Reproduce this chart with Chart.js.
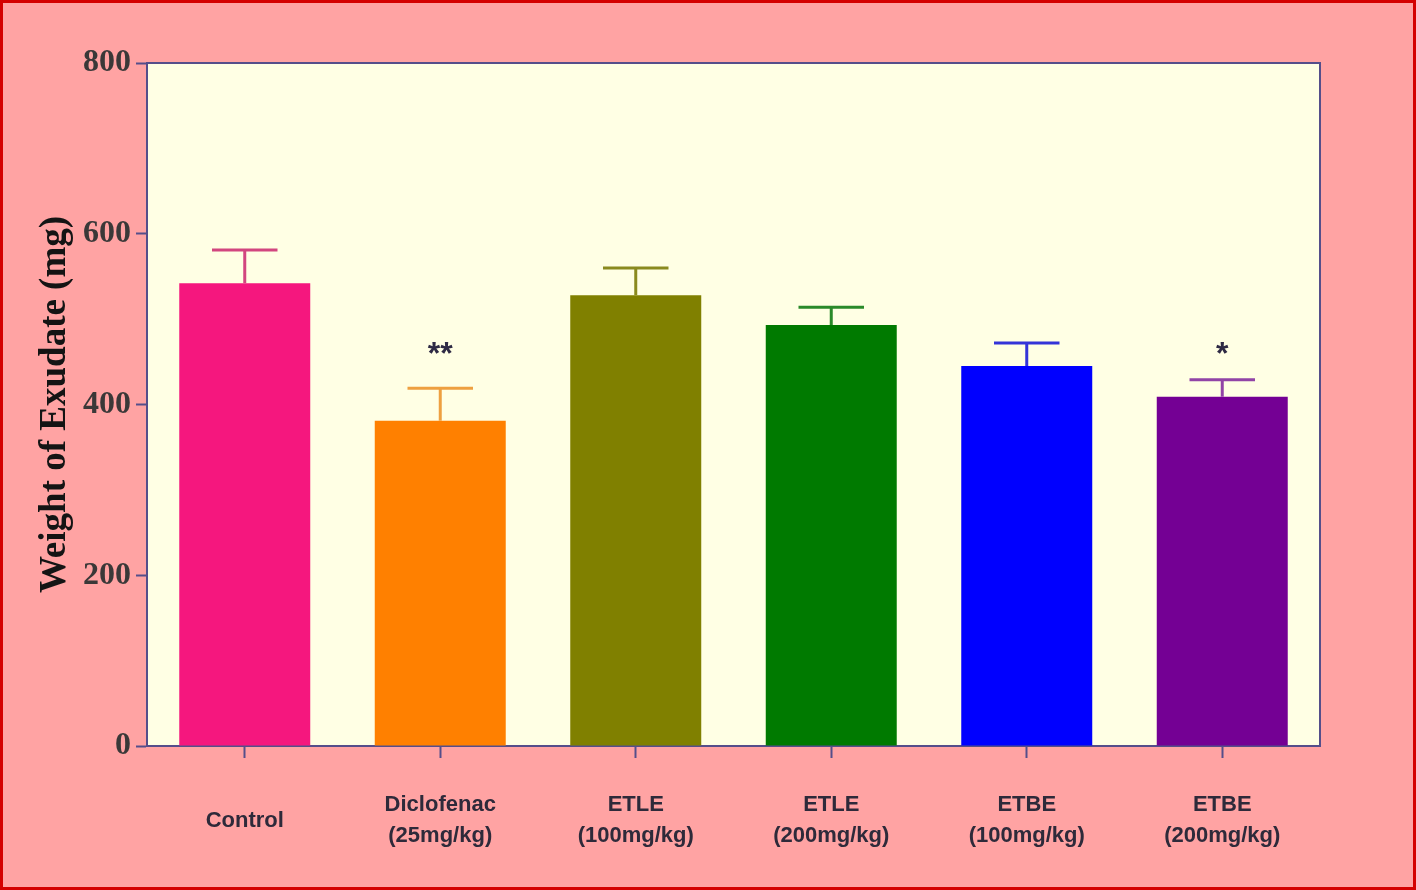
<!DOCTYPE html>
<html>
<head>
<meta charset="utf-8">
<script src="https://cdn.jsdelivr.net/npm/chart.js@4.4.1/dist/chart.umd.min.js"></script>
<style>
  html, body { margin: 0; padding: 0; background: #ffa3a3; }
  #wrap { width: 1416px; height: 890px; }
</style>
</head>
<body>
<div id="wrap"><canvas id="exudateChart" width="1416" height="890"></canvas></div>
<script>
// data
const groups = [
  "Control",
  ["Diclofenac", "(25mg/kg)"],
  ["ETLE", "(100mg/kg)"],
  ["ETLE", "(200mg/kg)"],
  ["ETBE", "(100mg/kg)"],
  ["ETBE", "(200mg/kg)"]
]
const meanWeight = [542, 381, 528, 493, 445, 409]
const semWeight = [39, 38, 32, 21, 27, 20]
const significance = ["", "**", "", "", "", "*"]
const yTicks = [0, 200, 400, 600, 800]

const barColors = ["#f5177e", "#ff8000", "#808000", "#007a00", "#0000ff", "#740094"]
const capColors = ["#d2467f", "#eea040", "#8a8a1e", "#2a8a2a", "#3434d8", "#9144a6"]
const axisColor = "#554e8a"

// page background, red frame, yellow plot area + box
const backdrop = {
  id: "backdrop",
  beforeDraw(chart) {
    const { ctx, chartArea: a } = chart
    ctx.save()
    ctx.fillStyle = "#ffa3a3"
    ctx.fillRect(0, 0, chart.width, chart.height)
    ctx.strokeStyle = "#d40000"
    ctx.lineWidth = 3
    ctx.strokeRect(1.5, 1.5, chart.width - 3, chart.height - 3)
    ctx.fillStyle = "#ffffe4"
    ctx.fillRect(a.left, a.top, a.right - a.left, a.bottom - a.top)
    ctx.restore()
  },
  afterDraw(chart) {
    const { ctx, chartArea: a } = chart
    ctx.save()
    ctx.strokeStyle = axisColor
    ctx.lineWidth = 2
    ctx.beginPath()
    ctx.moveTo(a.left, a.top)
    ctx.lineTo(a.right, a.top)
    ctx.lineTo(a.right, a.bottom)
    ctx.stroke()
    ctx.restore()
  }
}

// upper error bars and significance stars
const errorBars = {
  id: "errorBars",
  afterDatasetsDraw(chart) {
    const { ctx } = chart
    const y = chart.scales.y
    const meta = chart.getDatasetMeta(0)
    ctx.save()
    meta.data.forEach((bar, i) => {
      const top = y.getPixelForValue(meanWeight[i])
      const hi = y.getPixelForValue(meanWeight[i] + semWeight[i])
      const half = bar.width * 0.25
      ctx.strokeStyle = capColors[i]
      ctx.lineWidth = 3
      ctx.beginPath()
      ctx.moveTo(bar.x, top)
      ctx.lineTo(bar.x, hi)
      ctx.moveTo(bar.x - half, hi)
      ctx.lineTo(bar.x + half, hi)
      ctx.stroke()
      if (significance[i]) {
        ctx.fillStyle = "#2e2a44"
        ctx.font = "bold 32px 'Liberation Sans', Arial, sans-serif"
        ctx.textAlign = "center"
        ctx.textBaseline = "middle"
        ctx.fillText(significance[i], bar.x, y.getPixelForValue(464) + 5)
      }
    })
    ctx.restore()
  }
}

new Chart(document.getElementById("exudateChart"), {
  type: "bar",
  data: {
    labels: groups,
    datasets: [
      {
        data: meanWeight,
        backgroundColor: barColors,
        borderWidth: 0,
        barPercentage: 0.67,
        categoryPercentage: 1.0
      }
    ]
  },
  options: {
    responsive: false,
    animation: false,
    layout: { padding: { left: 0, top: 63, right: 96, bottom: 0 } },
    plugins: {
      legend: { display: false },
      tooltip: { enabled: false }
    },
    scales: {
      x: {
        afterFit: (scale) => { scale.height = 144 },
        grid: {
          offset: false,
          drawOnChartArea: false,
          drawTicks: true,
          tickLength: 12,
          tickWidth: 2,
          color: axisColor
        },
        border: { display: true, color: axisColor, width: 2 },
        ticks: {
          color: "#2e2a3a",
          padding: 47,
          crossAlign: "center",
          maxRotation: 0,
          font: { family: "'Liberation Sans', Arial, sans-serif", size: 22, weight: "bold", lineHeight: 1.41 }
        }
      },
      y: {
        min: 0,
        max: 800,
        afterFit: (scale) => { scale.width = 147 },
        afterBuildTicks: (scale) => { scale.ticks = yTicks.map((v) => ({ value: v })) },
        grid: {
          drawOnChartArea: false,
          drawTicks: true,
          tickLength: 11,
          tickWidth: 2,
          color: axisColor
        },
        border: { display: true, color: axisColor, width: 2 },
        ticks: {
          color: "#3a3838",
          padding: 5,
          font: { family: "'Liberation Serif', 'Times New Roman', serif", size: 32, weight: "bold" }
        },
        title: {
          display: true,
          text: "Weight of Exudate (mg)",
          color: "#141414",
          padding: { top: 33, bottom: 0 },
          font: { family: "'Liberation Serif', 'Times New Roman', serif", size: 37, weight: "bold", lineHeight: 1.2 }
        }
      }
    }
  },
  plugins: [backdrop, errorBars]
})
</script>
</body>
</html>
